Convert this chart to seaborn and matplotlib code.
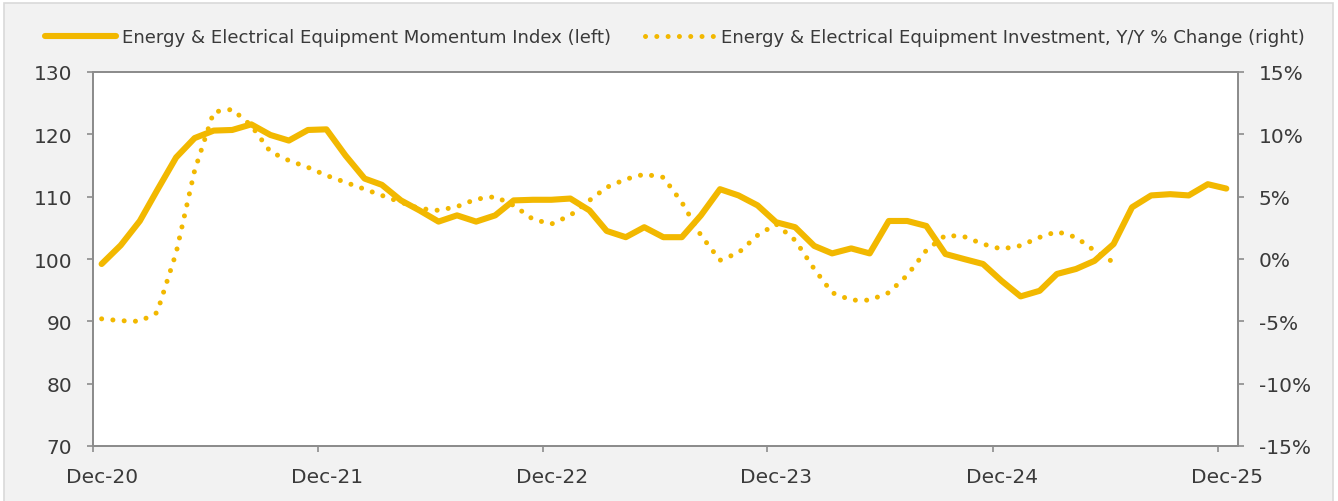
import numpy as np
import pandas as pd
import seaborn as sns
import matplotlib.pyplot as plt
from matplotlib.patches import Rectangle
from matplotlib.ticker import FuncFormatter
from matplotlib.transforms import ScaledTranslation

# monthly readings, Dec-20 .. Dec-25
months = pd.date_range('2020-12-01', '2025-12-01', freq='MS') + pd.Timedelta(days=14)

momentum_index = [
    99.2, 102.2, 106.1, 111.0, 116.3, 119.4, 120.6, 120.7, 121.6, 119.9,
    119.0, 120.7, 120.8, 116.6, 112.9, 111.9, 109.4, 107.8, 106.0, 107.0,
    106.0, 107.0, 109.4, 109.5, 109.5, 109.7, 107.8, 104.5, 103.5, 105.1,
    103.5, 103.5, 107.0, 111.2, 110.2, 108.6, 105.9, 105.1, 102.1, 100.9,
    101.7, 100.9, 106.1, 106.1, 105.3, 100.8, 100.0, 99.2, 96.5, 94.0,
    94.9, 97.6, 98.4, 99.7, 102.4, 108.3, 110.2, 110.4, 110.2, 112.0,
    111.3,
]

# investment y/y % change, Dec-20 .. Jun-25
investment_yoy = [
    -4.8, -4.95, -5.0, -4.3, 0.5, 7.1, 11.8, 12.0, 10.7, 8.6,
    7.9, 7.35, 6.7, 6.15, 5.6, 5.1, 4.55, 4.05, 3.9, 4.2,
    4.8, 5.0, 4.3, 3.2, 2.8, 3.5, 4.7, 5.75, 6.4, 6.8,
    6.55, 4.55, 1.9, -0.1, 0.5, 1.9, 2.8, 1.5, -0.8, -2.7,
    -3.3, -3.3, -2.7, -1.3, 0.7, 1.9, 1.8, 1.2, 0.8, 1.07,
    1.74, 2.2, 1.74, 0.67, -0.27,
]

tick_dates = pd.to_datetime(['2020-12-01', '2021-12-01', '2022-12-01',
                             '2023-12-01', '2024-12-01', '2025-12-01'])
tick_labels = ['Dec-20', 'Dec-21', 'Dec-22', 'Dec-23', 'Dec-24', 'Dec-25']

label_left = 'Energy & Electrical Equipment Momentum Index (left)'
label_right = 'Energy & Electrical Equipment Investment, Y/Y % Change (right)'

gold = '#F2B800'
spine_col = '#8c8c8c'
text_col = '#3a3a3a'

sns.set_style('white')
plt.rcParams['font.family'] = ['DejaVu Sans']

fig = plt.figure(figsize=(13.38, 5.02), dpi=100, facecolor='white')
fig.patches.append(Rectangle((4 / 1338, -0.05), 1329 / 1338, 1.05 - 4 / 502,
                             transform=fig.transFigure, facecolor='#f2f2f2',
                             edgecolor='#d9d9d9', linewidth=1.2, zorder=-10))
ax = fig.add_axes([93 / 1338, 1 - 447 / 502, (1238 - 93) / 1338, (447 - 73) / 502])
ax.set_facecolor('white')
ax2 = ax.twinx()

sns.lineplot(x=months, y=momentum_index, ax=ax, color=gold, linewidth=4.4,
             solid_capstyle='round', solid_joinstyle='round', legend=False)
sns.lineplot(x=months[:len(investment_yoy)], y=investment_yoy, ax=ax2, color=gold,
             linewidth=3.6, linestyle=(0, (0.01, 2.25)), dash_capstyle='round',
             legend=False)

ax.set_ylim(70, 130)
ax.set_yticks(np.arange(70, 131, 10))
ax2.set_ylim(-15, 15)
ax2.set_yticks(np.arange(-15, 16, 5))
ax2.yaxis.set_major_formatter(FuncFormatter(lambda v, p: f'{v:.0f}%'))

ax.set_xlim(pd.Timestamp('2020-12-01'), pd.Timestamp('2026-01-03'))
ax.set_xticks(tick_dates)
ax.set_xticklabels(tick_labels)
ax.set_xlabel('')
ax.set_ylabel('')
ax2.set_ylabel('')

for a in (ax, ax2):
    for s in a.spines.values():
        s.set_color(spine_col)
        s.set_linewidth(1.3)
        s.set_visible(True)
    a.tick_params(direction='out', length=4, width=1.2, color=spine_col,
                  labelsize=14.5, labelcolor=text_col, pad=11)
ax.tick_params(axis='x', pad=11, bottom=True)
ax.tick_params(axis='y', left=True)
ax2.tick_params(axis='y', right=True)

# date labels sit under the mid-month points, a little right of the ticks
shift = ScaledTranslation(9 / 100, 0, fig.dpi_scale_trans)
for lab in ax.get_xticklabels():
    lab.set_transform(lab.get_transform() + shift)

h1 = ax.get_lines()[0]
h2 = ax2.get_lines()[0]
fig.legend([h1, h2], [label_left, label_right], loc='center left',
           bbox_to_anchor=(36 / 1338, 1 - 38 / 502), ncol=2, frameon=False,
           borderpad=0, handlelength=3.9, handletextpad=0.3, columnspacing=1.9,
           prop={'size': 13.1}, labelcolor=text_col)

fig.savefig('out.png', dpi=100, facecolor=fig.get_facecolor())
